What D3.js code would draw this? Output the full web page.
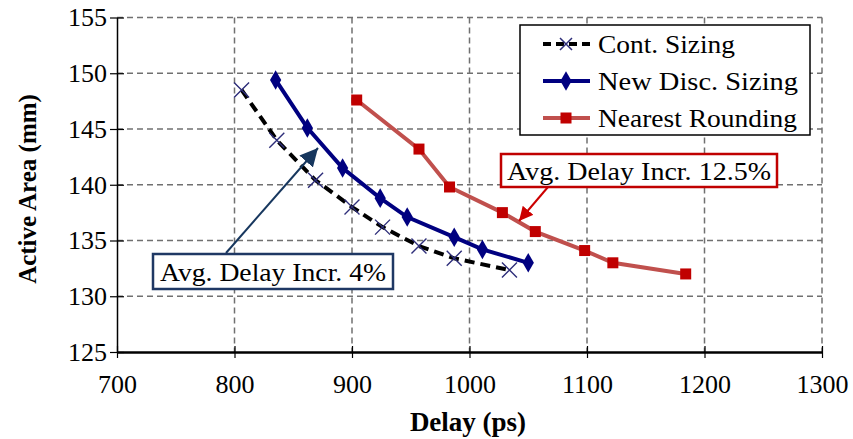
<!DOCTYPE html>
<html><head><meta charset="utf-8">
<script src="https://cdn.jsdelivr.net/npm/d3@7"></script>
<style>body{margin:0;background:#fff}svg{display:block}text{font-family:"Liberation Serif","Times New Roman",serif}</style>
</head><body>
<svg id="c" width="853" height="439"></svg>
<script>
const xTicks = [700, 800, 900, 1000, 1100, 1200, 1300];
const yTicks = [125, 130, 135, 140, 145, 150, 155];
const contDelay = [806, 836, 869, 900, 926, 957, 987, 1034];
const contArea  = [148.5, 144.0, 140.4, 138.0, 136.2, 134.5, 133.4, 132.35];
const discDelay = [835, 862, 892, 924, 947, 987, 1011, 1050];
const discArea  = [149.4, 145.1, 141.5, 138.8, 137.1, 135.3, 134.2, 133.0];
const roundDelay = [904, 957, 983, 1028, 1056, 1098, 1122, 1184];
const roundArea  = [147.6, 143.2, 139.8, 137.5, 135.8, 134.1, 133.0, 132.0];
const seriesNames = ["Cont. Sizing", "New Disc. Sizing", "Nearest Rounding"];
const annot1 = "Avg. Delay Incr. 4%";
const annot2 = "Avg. Delay Incr. 12.5%";

const svg = d3.select("#c");
const L = 117, R = 822, T = 17.5, B = 352;
const x = d3.scaleLinear().domain([700, 1300]).range([L, R]);
const y = d3.scaleLinear().domain([125, 155]).range([B, T]);

// grid
const g = svg.append("g");
g.selectAll(".gy").data(yTicks.filter(d => d > 125)).enter().append("line")
  .attr("x1", L).attr("x2", R).attr("y1", d => y(d)).attr("y2", d => y(d))
  .attr("stroke", "#707070").attr("stroke-width", 1.5).attr("stroke-dasharray", "6,4");
g.selectAll(".gx").data(xTicks.filter(d => d > 700)).enter().append("line")
  .attr("y1", T).attr("y2", B).attr("x1", d => x(d)).attr("x2", d => x(d))
  .attr("stroke", "#707070").attr("stroke-width", 1.5).attr("stroke-dasharray", "6,4");

// axes
const xAxis = svg.append("g").attr("transform", `translate(0,${B})`)
  .call(d3.axisBottom(x).tickValues(xTicks).tickFormat(d3.format("d")).tickSize(6).tickSizeOuter(0).tickPadding(17));
const yAxis = svg.append("g").attr("transform", `translate(${L},0)`)
  .call(d3.axisLeft(y).tickValues(yTicks).tickFormat(d3.format("d")).tickSize(7).tickSizeOuter(0).tickPadding(3));
[xAxis, yAxis].forEach(a => {
  a.select(".domain").attr("stroke", "#000").attr("stroke-width", 1.5);
  a.selectAll(".tick line").attr("stroke", "#000").attr("stroke-width", 1.2);
  a.selectAll(".tick text").attr("font-size", 26).attr("fill", "#000")
    .attr("font-family", "Liberation Serif");
});
xAxis.select(".domain").attr("stroke-width", 2.5);
xAxis.selectAll(".tick line").attr("y1", -6).attr("y2", 6);
yAxis.selectAll(".tick line").attr("x1", -7).attr("x2", 7);

svg.append("text").attr("x", 468).attr("y", 431).attr("text-anchor", "middle")
  .attr("font-size", 27).attr("font-weight", "bold").text("Delay (ps)");
svg.append("text").attr("transform", `translate(36,${189}) rotate(-90)`)
  .attr("text-anchor", "middle").attr("font-size", 25).attr("font-weight", "bold").text("Active Area (mm)");

const line = d3.line().x(d => x(d[0])).y(d => y(d[1]));
const cont = contDelay.map((d, i) => [d, contArea[i]]);
const disc = discDelay.map((d, i) => [d, discArea[i]]);
const rnd = roundDelay.map((d, i) => [d, roundArea[i]]);

// red series
svg.append("path").datum(rnd).attr("d", line).attr("fill", "none")
  .attr("stroke", "#c0504d").attr("stroke-width", 4);
svg.selectAll(".sq").data(rnd).enter().append("rect")
  .attr("x", d => x(d[0]) - 5.5).attr("y", d => y(d[1]) - 5.5).attr("width", 11).attr("height", 11)
  .attr("fill", "#c00000");

// navy series
svg.append("path").datum(disc).attr("d", line).attr("fill", "none")
  .attr("stroke", "#000080").attr("stroke-width", 4);
const diamond = d3.symbol().type(d3.symbolDiamond).size(110);
svg.selectAll(".dm").data(disc).enter().append("path")
  .attr("d", diamond).attr("transform", d => `translate(${x(d[0])},${y(d[1])})`)
  .attr("fill", "#000080");

// continuous
svg.append("path").datum(cont).attr("d", line).attr("fill", "none")
  .attr("stroke", "#000").attr("stroke-width", 4).attr("stroke-dasharray", "10,6");
svg.selectAll(".cx2").data(cont).enter().append("path")
  .attr("d", d => { const cx = x(d[0]), cy = y(d[1]), s = 7.5; return `M${cx-s},${cy-s}L${cx+s},${cy+s}M${cx-s},${cy+s}L${cx+s},${cy-s}`; })
  .attr("stroke", "#2e2e7a").attr("stroke-width", 1.4).attr("fill", "none");

// arrows
const defs = svg.append("defs");
defs.append("marker").attr("id", "a1").attr("viewBox", "0 0 10 10").attr("refX", 10).attr("refY", 5)
  .attr("markerWidth", 18).attr("markerHeight", 18).attr("markerUnits", "userSpaceOnUse").attr("orient", "auto")
  .append("path").attr("d", "M0,0L10,5L0,10Z").attr("fill", "#17375e");
defs.append("marker").attr("id", "a2").attr("viewBox", "0 0 10 10").attr("refX", 10).attr("refY", 5)
  .attr("markerWidth", 14).attr("markerHeight", 14).attr("markerUnits", "userSpaceOnUse").attr("orient", "auto")
  .append("path").attr("d", "M0,0L10,5L0,10Z").attr("fill", "#cc0000");

svg.append("line").attr("x1", 226).attr("y1", 253).attr("x2", 318).attr("y2", 148)
  .attr("stroke", "#17375e").attr("stroke-width", 2).attr("marker-end", "url(#a1)");
svg.append("line").attr("x1", 548).attr("y1", 187).attr("x2", 519).attr("y2", 221)
  .attr("stroke", "#cc0000").attr("stroke-width", 2).attr("marker-end", "url(#a2)");

// annotation boxes
svg.append("rect").attr("x", 153).attr("y", 254).attr("width", 240).attr("height", 35)
  .attr("fill", "#fff").attr("stroke", "#1f3864").attr("stroke-width", 2.5);
svg.append("text").attr("x", 273).attr("y", 281).attr("text-anchor", "middle").attr("font-size", 26)
  .attr("textLength", 226).attr("lengthAdjust", "spacingAndGlyphs").text(annot1);
svg.append("rect").attr("x", 501).attr("y", 154).attr("width", 276).attr("height", 33)
  .attr("fill", "#fff").attr("stroke", "#c00000").attr("stroke-width", 2.5);
svg.append("text").attr("x", 639).attr("y", 180).attr("text-anchor", "middle").attr("font-size", 26)
  .attr("textLength", 264).attr("lengthAdjust", "spacingAndGlyphs").text(annot2);

// legend
const lg = svg.append("g");
lg.append("rect").attr("x", 520).attr("y", 25).attr("width", 290).attr("height", 110)
  .attr("fill", "#fff").attr("stroke", "#000").attr("stroke-width", 1.5);
const rows = [44, 81, 118];
lg.append("line").attr("x1", 543).attr("x2", 590).attr("y1", rows[0]).attr("y2", rows[0])
  .attr("stroke", "#000").attr("stroke-width", 4).attr("stroke-dasharray", "8,5");
lg.append("path").attr("d", `M${566-6},${rows[0]-6}L${566+6},${rows[0]+6}M${566-6},${rows[0]+6}L${566+6},${rows[0]-6}`)
  .attr("stroke", "#2e2e7a").attr("stroke-width", 1.5);
lg.append("line").attr("x1", 543).attr("x2", 590).attr("y1", rows[1]).attr("y2", rows[1])
  .attr("stroke", "#000080").attr("stroke-width", 4);
lg.append("path").attr("d", diamond).attr("transform", `translate(566,${rows[1]})`).attr("fill", "#000080");
lg.append("line").attr("x1", 543).attr("x2", 590).attr("y1", rows[2]).attr("y2", rows[2])
  .attr("stroke", "#c0504d").attr("stroke-width", 4);
lg.append("rect").attr("x", 560.5).attr("y", rows[2] - 5.5).attr("width", 11).attr("height", 11).attr("fill", "#c00000");
const legW = [137, 200, 199];
lg.selectAll(".lt").data(seriesNames).enter().append("text")
  .attr("x", 598).attr("y", (d, i) => rows[i] + 9).attr("font-size", 26)
  .attr("textLength", (d, i) => legW[i]).attr("lengthAdjust", "spacingAndGlyphs").text(d => d);
</script>
</body></html>
